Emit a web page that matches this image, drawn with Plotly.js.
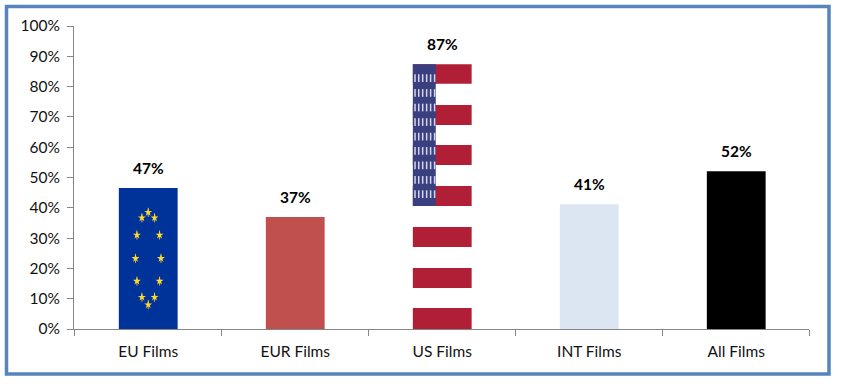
<!DOCTYPE html>
<html>
<head>
<meta charset="utf-8">
<script src="https://cdn.plot.ly/plotly-3.0.1.min.js"></script>
<style>html,body{margin:0;padding:0;background:#fff}#c{width:841px;height:384px}</style>
</head>
<body>
<div id="c"></div>
<script>
var categories = ["EU Films","EUR Films","US Films","INT Films","All Films"];
var positions = [0,1,2,3,4];
var barValues = [46.5,37,87.4,41.2,52.1];
var labelTexts = ["47%","37%","87%","41%","52%"];
var barColors = ["#003399","#C0504D","rgba(0,0,0,0)","#DCE6F2","#000000"];
var yTicks = [0,10,20,30,40,50,60,70,80,90,100];
var yTickText = ["0%","10%","20%","30%","40%","50%","60%","70%","80%","90%","100%"];
var boundaryTicks = [-0.505,0.495,1.495,2.495,3.495,4.495];

// US flag stripes (percent scale)
var stripeBase = [80.9,67.3,54.1,40.6,27.1,13.5,0];
var stripeHeight = [6.5,6.6,6.6,6.6,6.6,6.6,6.9];
var cantonBase = 40.6;
var cantonHeight = 46.8;
var cantonRows = [82.8,77.9,73.1,68.3,63.5,58.8,54,49.2,44.5];
var cantonCols = [1.815,1.84,1.867,1.894,1.921,1.948];

// EU flag stars
var starX = [0,-0.043,0.043,-0.077,0.077,-0.0865,0.0865,-0.077,0.077,-0.043,0.043,0];
var starY = [38.5,36.7,36.7,31,31,23.3,23.3,15.8,15.8,10.5,10.5,8];

var W = 841, H = 384, L = 74, R = 32, T = 26, B = 55;
var barWidth = 0.4;
var fontFam = "Lato, 'Open Sans', sans-serif";
var cantonX = [], cantonY = [];
cantonRows.forEach(function(r){ cantonCols.forEach(function(c){ cantonX.push(c); cantonY.push(r); }); });

function px(x){ return (x - L) / (W - L - R); }
function py(y){ return 1 - (y - T) / (H - T - B); }

var traces = [
  {type:"bar", x:positions, y:barValues, width:barWidth, marker:{color:barColors, line:{width:0}}, hoverinfo:"skip"},
  {type:"bar", x:stripeBase.map(function(){return 2;}), y:stripeHeight, base:stripeBase, width:barWidth,
   marker:{color:"#B01F35", line:{width:0}}, hoverinfo:"skip"},
  {type:"bar", x:[2], y:[cantonHeight], base:[cantonBase], width:[0.156], offset:[-0.2],
   marker:{color:"#3A3F80", line:{width:0}}, hoverinfo:"skip"},
  {type:"scatter", mode:"markers", x:cantonX, y:cantonY, hoverinfo:"skip",
   marker:{symbol:"line-ns", size:5.5, color:"#DDDDF0", line:{width:1.5, color:"#D5D6EC"}}},
  {type:"scatter", mode:"markers", x:starX, y:starY, hoverinfo:"skip",
   marker:{symbol:"line-ns", size:6.5, color:"#C9B24A", line:{width:1, color:"#C9B24A"}}},
  {type:"scatter", mode:"markers", x:starX, y:starY, hoverinfo:"skip",
   marker:{symbol:"star", size:6, color:"#FFD92E", line:{width:0}}}
];

var annotations = positions.map(function(p, i){
  return {x:p, y:barValues[i], xref:"x", yref:"y", text:labelTexts[i], showarrow:false,
    yanchor:"bottom", yshift:9, font:{family:fontFam, size:15.5, color:"#000", weight:700}};
});

var layout = {
  width:W, height:H, showlegend:false, barmode:"overlay",
  paper_bgcolor:"#fff", plot_bgcolor:"#fff",
  margin:{l:L, r:R, t:T, b:B},
  font:{family:fontFam, size:15.5, color:"#111"},
  annotations:annotations,
  xaxis:{type:"linear", range:[-0.505,4.495], tickmode:"array", tickvals:positions, ticktext:categories,
    ticks:"", showgrid:false, zeroline:false, showline:true, linecolor:"#868686", linewidth:1,
    tickfont:{family:fontFam, size:15.5, color:"#111"}, ticklabelstandoff:8,
    minor:{tickmode:"array", tickvals:boundaryTicks, ticks:"outside", ticklen:6, tickwidth:1, tickcolor:"#868686", showgrid:false}},
  yaxis:{range:[0,100], tickmode:"array", tickvals:yTicks, ticktext:yTickText, ticks:"outside", ticklen:6, tickwidth:1,
    tickcolor:"#868686", showgrid:false, zeroline:false, showline:true, linecolor:"#868686", linewidth:1,
    tickfont:{family:fontFam, size:15.5, color:"#111"}, ticklabelstandoff:4},
  shapes:[{type:"rect", xref:"paper", yref:"paper", x0:px(6.5), x1:px(829), y0:py(6.5), y1:py(374),
    line:{color:"#5585BC", width:3.5}, fillcolor:"rgba(0,0,0,0)", layer:"below"}]
};
Plotly.newPlot("c", traces, layout, {displayModeBar:false, staticPlot:true});
</script>
</body>
</html>
